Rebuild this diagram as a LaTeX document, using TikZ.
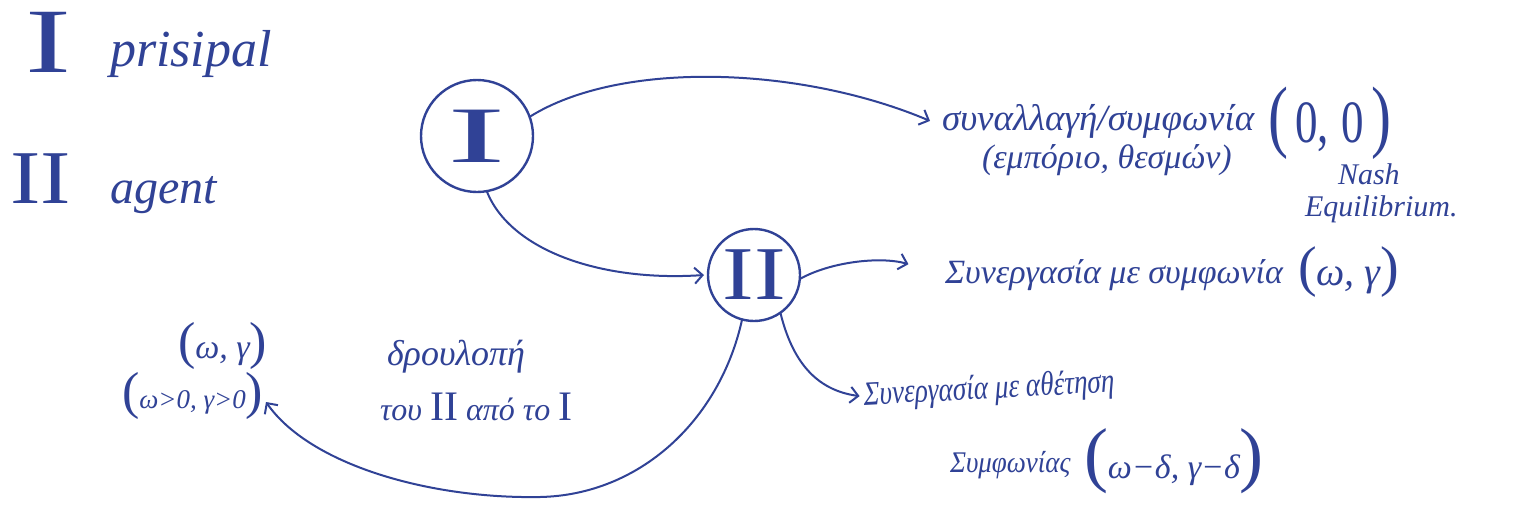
\documentclass[tikz,border=0pt]{standalone}
\usepackage{fontspec}
\setmainfont{Liberation Serif}
\usetikzlibrary{arrows.meta}
\definecolor{ink}{RGB}{48,66,150}
\begin{document}
\begin{tikzpicture}[x=0.5pt,y=-0.5pt,
  every node/.style={text=ink, inner sep=0pt, outer sep=0pt},
  hand/.style={font=\itshape\fontsize{#1}{#1}\selectfont, anchor=base west},
  roman/.style={font=\fontsize{#1}{#1}\selectfont},
  conn/.style={draw=ink, line width=1pt, line cap=round, -{Straight Barb[length=4pt,width=8pt]}},
  bubble/.style={draw=ink, line width=1.2pt, circle, minimum size=#1},
]
\useasboundingbox (0,0) rectangle (1532,515);
\fill[white] (0,0) rectangle (1532,515);

% legend
\node[roman=46, anchor=base] (bigI) at (48,72) {\scalebox{1.5}[1]{I}};
\node[hand=26] (prin) at (110,66) {prisipal};
\node[roman=38, anchor=base] (bigII) at (41,203) {\scalebox{1.2}[1]{II}};
\node[hand=24] (agent) at (110,203) {agent};

% players
\node[bubble=56pt, roman=40] (nI) at (477,136) {\scalebox{2.2}[1]{I}};
\node[bubble=46pt, roman=38] (nII) at (754,275) {\scalebox{1.25}[1]{II}};

% top outcome
\node[hand=18.5] (t1) at (942,130) {συναλλαγή/συμφωνία};
\node[hand=17] (t1b) at (982,168) {(εμπόριο, θεσμών)};
\node[anchor=base west] (t00) at (1268,142) {\scalebox{0.75}[1]{{\fontsize{40}{40}\selectfont(}{\fontsize{30}{30}\selectfont\,0,\;0\,}{\fontsize{40}{40}\selectfont)}}};
\node[hand=15] (nash) at (1338,184) {Nash};
\node[hand=15] (eq) at (1305,216) {Equilibrium.};

% middle outcome
\node[hand=17] (t2) at (945,283) {Συνεργασία με συμφωνία};
\node[anchor=base west] (t2b) at (1298,285) {{\fontsize{28}{28}\selectfont(}{\itshape\fontsize{20}{20}\selectfont ω, γ}{\fontsize{28}{28}\selectfont)}};

% bottom outcome
\node[hand=17, rotate=3] (t3) at (864,405) {\scalebox{0.8}[1]{Συνεργασία με αθέτηση}};
\node[hand=15] (t3b) at (950,472) {\scalebox{0.9}[1]{Συμφωνίας}};
\node[anchor=base west] (t3c) at (1084,478) {{\fontsize{36}{36}\selectfont(}{\itshape\fontsize{17}{17}\selectfont ω−δ, γ−δ}{\fontsize{36}{36}\selectfont)}};

% left outcome
\node[anchor=base west] (lw1) at (178,358) {{\fontsize{26}{26}\selectfont(}{\itshape\fontsize{17}{17}\selectfont ω, γ}{\fontsize{26}{26}\selectfont)}};
\node[anchor=base west] (lw2) at (122,408) {{\fontsize{26}{26}\selectfont(}{\itshape\fontsize{13.5}{13.5}\selectfont ω>0, γ>0}{\fontsize{26}{26}\selectfont)}};
\coordinate (tipL) at (266,402);

% label of the loop
\node[hand=18] (lab1) at (387,365) {δρουλοπή};
\node[hand=16] (lab2) at (380,420) {του {\upshape\fontsize{21}{21}\selectfont II} από το {\upshape\fontsize{21}{21}\selectfont I}};

% connectors
\draw[conn] (nI.20) .. controls (620,60) and (800,66) .. ([xshift=-6pt]t1.west);
\draw[conn] (nI.-80) .. controls (510,250) and (600,282) .. ([xshift=-2pt]nII.west);
\draw[conn, shorten >=19pt] (nII.-5) .. controls (830,262) and (880,256) .. (t2.west);
\draw[conn, shorten >=2pt] (nII.-55) .. controls (792,360) and (815,390) .. (t3.west);
\draw[conn] (nII.-105) .. controls (720,420) and (640,495) .. (540,497)
            .. controls (430,499) and (310,465) .. (tipL);
\end{tikzpicture}
\end{document}
